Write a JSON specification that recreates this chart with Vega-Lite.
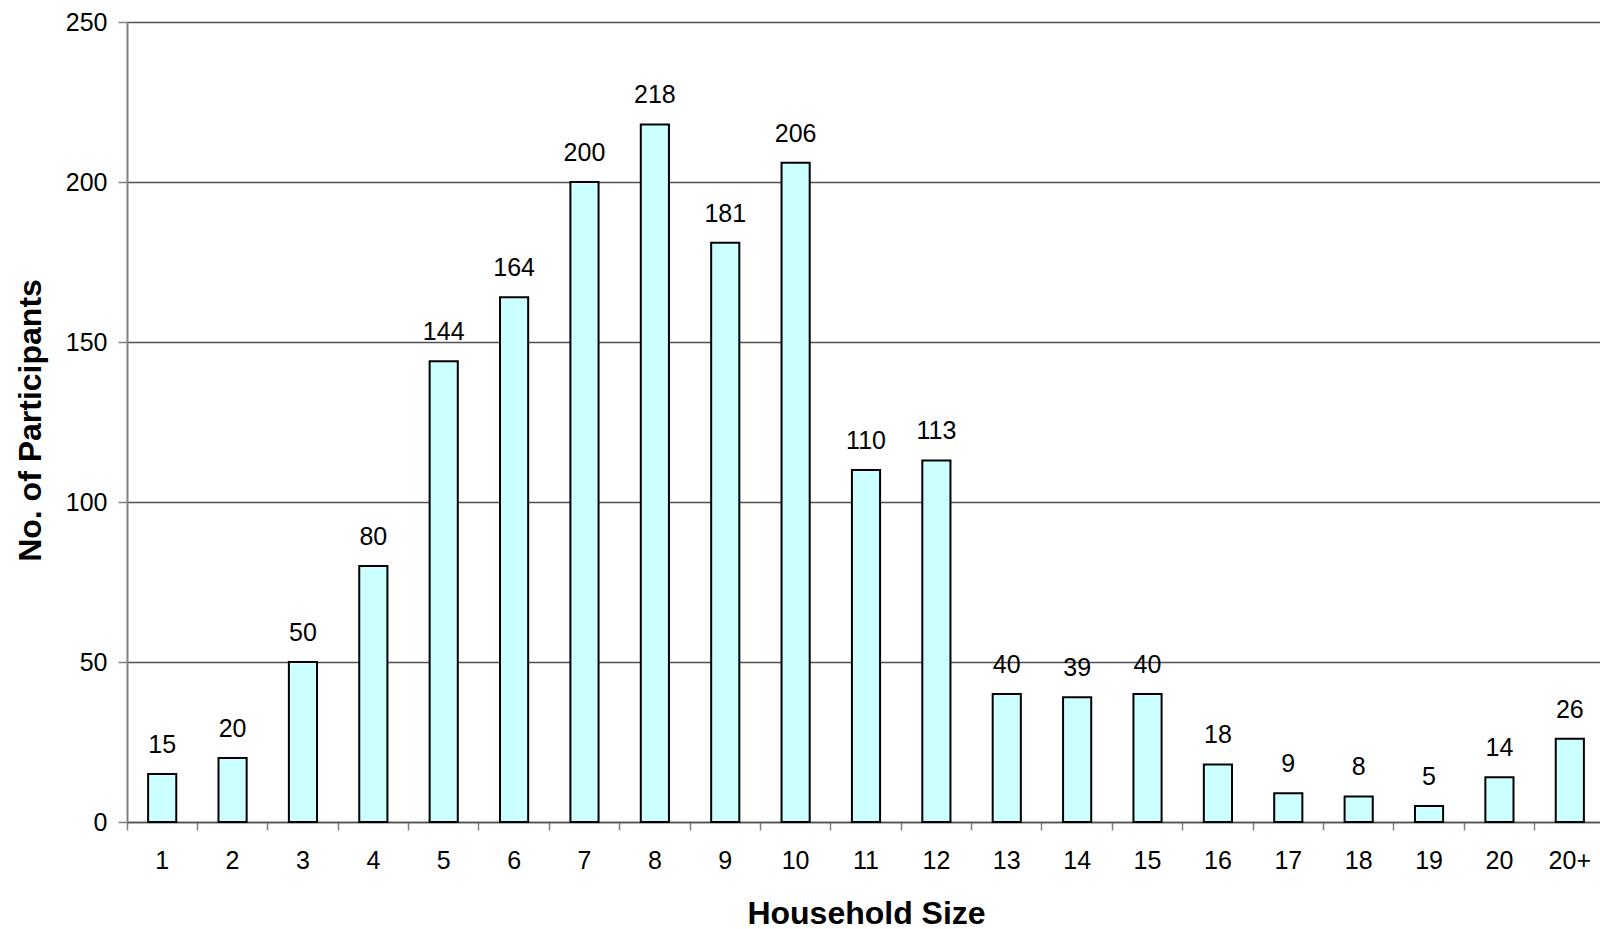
{
  "$schema": "https://vega.github.io/schema/vega-lite/v6.json",
  "autosize": "none",
  "width": 1473,
  "height": 800,
  "padding": {"left": 127, "top": 22, "right": 0, "bottom": 107},
  "background": "white",
  "config": {
    "view": {"stroke": null},
    "font": "Liberation Sans"
  },
  "data": {
    "values": [
      {"size": "1", "n": 15},
      {"size": "2", "n": 20},
      {"size": "3", "n": 50},
      {"size": "4", "n": 80},
      {"size": "5", "n": 144},
      {"size": "6", "n": 164},
      {"size": "7", "n": 200},
      {"size": "8", "n": 218},
      {"size": "9", "n": 181},
      {"size": "10", "n": 206},
      {"size": "11", "n": 110},
      {"size": "12", "n": 113},
      {"size": "13", "n": 40},
      {"size": "14", "n": 39},
      {"size": "15", "n": 40},
      {"size": "16", "n": 18},
      {"size": "17", "n": 9},
      {"size": "18", "n": 8},
      {"size": "19", "n": 5},
      {"size": "20", "n": 14},
      {"size": "20+", "n": 26}
    ]
  },
  "encoding": {
    "x": {
      "field": "size",
      "type": "nominal",
      "sort": null,
      "scale": {"paddingInner": 0, "paddingOuter": 0, "range": [0, 1478]},
      "axis": {
        "title": "Household Size",
        "titleFont": "Liberation Sans",
        "titleFontSize": 32,
        "titleFontWeight": "bold",
        "titleColor": "black",
        "titleBaseline": "alphabetic",
        "titleX": 739,
        "titleY": 101,
        "labelAngle": 0,
        "labelFont": "Liberation Sans",
        "labelFontSize": 25,
        "labelColor": "black",
        "labelBaseline": "alphabetic",
        "labelPadding": 38,
        "bandPosition": 0,
        "tickSize": 8,
        "tickColor": "#808080",
        "tickWidth": 1.5,
        "domainColor": "#505050",
        "domainWidth": 1.5,
        "grid": false
      }
    },
    "y": {
      "field": "n",
      "type": "quantitative",
      "scale": {"domain": [0, 250], "nice": false},
      "axis": {
        "title": "No. of Participants",
        "titleFont": "Liberation Sans",
        "titleFontSize": 32,
        "titleFontWeight": "bold",
        "titleColor": "black",
        "titleBaseline": "alphabetic",
        "titleX": -87,
        "titleY": 398,
        "values": [0, 50, 100, 150, 200, 250],
        "labelFont": "Liberation Sans",
        "labelFontSize": 25,
        "labelColor": "black",
        "labelPadding": 11,
        "tickSize": 9,
        "tickColor": "#808080",
        "tickWidth": 1.5,
        "domainColor": "#808080",
        "domainWidth": 2,
        "grid": true,
        "gridColor": "#505050",
        "gridWidth": 1.3,
        "gridOpacity": 1
      }
    }
  },
  "layer": [
    {
      "mark": {
        "type": "bar",
        "width": {"band": 0.4},
        "fill": "#ccffff",
        "stroke": "black",
        "strokeWidth": 2
      }
    },
    {
      "mark": {
        "type": "text",
        "baseline": "alphabetic",
        "align": "center",
        "dy": -21,
        "fontSize": 25,
        "font": "Liberation Sans",
        "color": "black"
      },
      "encoding": {
        "text": {"field": "n", "type": "quantitative"}
      }
    }
  ]
}
